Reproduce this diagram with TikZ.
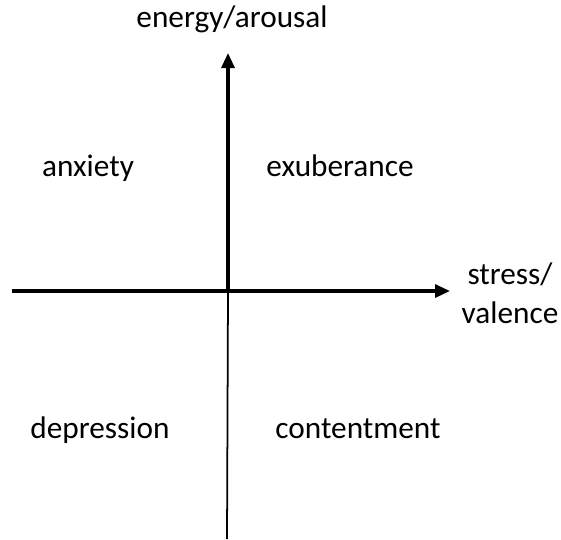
\documentclass[tikz,border=0pt]{standalone}
\usepackage{fontspec}
\setmainfont{Carlito}
\usepackage{tikz}
\usetikzlibrary{arrows.meta}
\tikzset{
  axis/.style={-{Triangle[length=1.5mm,width=1.3mm]}, line width=0.9pt},
  thinaxis/.style={line width=0.5pt},
  quadlabel/.style={font=\fontsize{8.9}{10}\selectfont, inner sep=0pt},
  axislabel/.style={font=\fontsize{8.9}{11}\selectfont, inner sep=0pt, align=center},
}
\begin{document}
\begin{tikzpicture}[x=1cm,y=-1cm]
\useasboundingbox (0,0) rectangle (5.61,5.39);

% ---- axes ----
\coordinate (origin) at (2.28,2.91);
\coordinate (ytop) at (2.28,0.53);
\coordinate (ybot) at (2.27,5.39);
\coordinate (xleft) at (0.12,2.91);
\coordinate (xright) at (4.50,2.91);

\draw[axis] (xleft) -- (xright);
\draw[axis] (origin) -- (ytop);
\draw[thinaxis] (origin) -- (ybot);

% ---- axis labels ----
\node[axislabel] (ylab) at (2.32,0.19) {energy/arousal};
\node[axislabel] (xlab) at (5.10,2.93) {stress/\\valence};

% ---- quadrants ----
\node[quadlabel] (anx) at (0.88,1.68) {anxiety};
\node[quadlabel] (exu) at (3.40,1.66) {exuberance};
\node[quadlabel] (dep) at (1.00,4.30) {depression};
\node[quadlabel] (con) at (3.58,4.29) {contentment};

\end{tikzpicture}
\end{document}
